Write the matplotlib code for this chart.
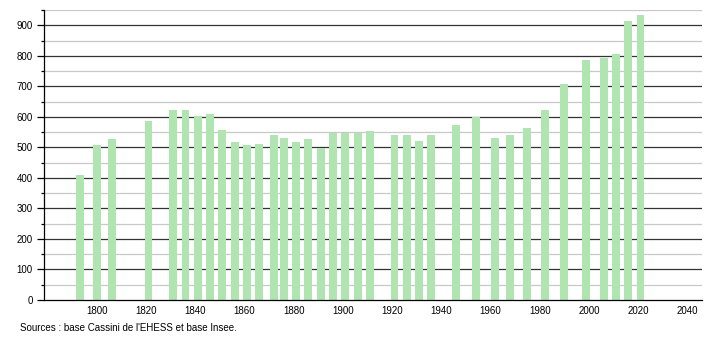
import matplotlib
matplotlib.use("Agg")
import matplotlib.pyplot as plt
from matplotlib.ticker import MultipleLocator

years = [1793, 1800, 1806, 1821, 1831, 1836, 1841, 1846, 1851, 1856, 1861, 1866,
         1872, 1876, 1881, 1886, 1891, 1896, 1901, 1906, 1911, 1921, 1926, 1931,
         1936, 1946, 1954, 1962, 1968, 1975, 1982, 1990, 1999, 2006, 2011, 2016, 2021]
population = [410, 509, 529, 588, 621, 624, 604, 610, 558, 519, 507, 512,
              539, 532, 519, 526, 499, 546, 546, 546, 553, 539, 542, 522,
              539, 572, 601, 532, 539, 562, 621, 706, 785, 792, 805, 913, 933]
x_ticks = [1800, 1820, 1840, 1860, 1880, 1900, 1920, 1940, 1960, 1980, 2000, 2020, 2040]
y_ticks = [0, 100, 200, 300, 400, 500, 600, 700, 800, 900]
source = "Sources : base Cassini de l'EHESS et base Insee."

plt.rcParams['font.family'] = ['Liberation Sans', 'DejaVu Sans']
fig = plt.figure(figsize=(7.1, 3.4), dpi=100)
ax = fig.add_axes([44/710, 40/340, 658/710, 290/340])

# grid lines
for v in range(50, 951, 100):
    ax.axhline(v, color='#c8c8c8', lw=0.9, zorder=0)
for v in y_ticks[1:]:
    ax.axhline(v, color='#333333', lw=0.9, zorder=0)

ax.bar(years, population, width=3.2, color='#b0e4b0', zorder=2)

ax.set_xlim(1778.5, 2046)
ax.set_ylim(0, 950)
ax.set_xticks(x_ticks)
ax.set_yticks(y_ticks)
ax.yaxis.set_minor_locator(MultipleLocator(50))
ax.tick_params(axis='y', which='major', length=5, width=0.9, labelsize=7, colors='#000000', pad=3)
ax.tick_params(axis='y', which='minor', length=2.5, width=0.9)
ax.tick_params(axis='x', length=0, labelsize=7, pad=4)
for s in ['top', 'right']:
    ax.spines[s].set_visible(False)
for s in ['left', 'bottom']:
    ax.spines[s].set_color('#000000')
    ax.spines[s].set_linewidth(0.9)

fig.text(20/710, 1 - 328/340, source, fontsize=7, ha='left', va='center')

fig.savefig("out.png", dpi=100)
